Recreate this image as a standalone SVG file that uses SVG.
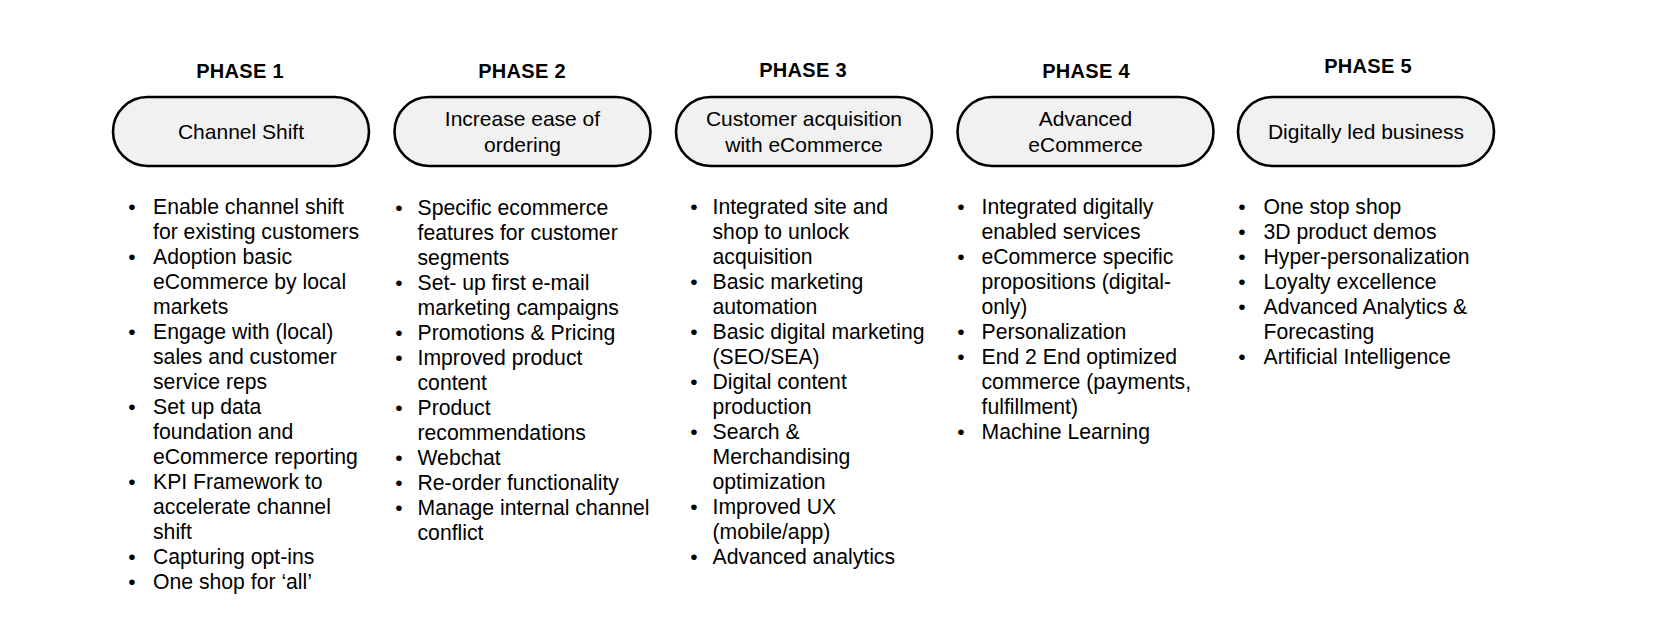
<svg xmlns="http://www.w3.org/2000/svg" width="1676" height="622" viewBox="0 0 1676 622">
<style>
.hdr{font-family:"Liberation Sans",Arial,sans-serif;font-weight:bold;font-size:20px;letter-spacing:0.3px;fill:#000;text-anchor:middle}
.pill{fill:#f1f1f1;stroke:#000;stroke-width:2.6}
.pt{font-family:"Liberation Sans",Arial,sans-serif;font-size:21px;fill:#000;text-anchor:middle}
.li{font-family:"Liberation Sans",Arial,sans-serif;font-size:21.2px;fill:#000}
.bu{font-family:"Liberation Sans",Arial,sans-serif;font-size:21px;fill:#000;text-anchor:middle}
</style>
<rect width="1676" height="622" fill="#fff"/>
<g id="phase1">
<text class="hdr" x="240" y="77.5">PHASE 1</text>
<rect class="pill" x="113" y="97" width="256" height="69" rx="34.5"/>
<text class="pt" x="241" y="139">Channel Shift</text>
<g class="bu"><text x="132" y="213.5">•</text><text x="132" y="263.5">•</text><text x="132" y="338.5">•</text><text x="132" y="413.5">•</text><text x="132" y="488.5">•</text><text x="132" y="563.5">•</text><text x="132" y="588.5">•</text></g>
<text class="li"><tspan x="153" y="213.5">Enable channel shift</tspan><tspan x="153" y="238.5">for existing customers</tspan><tspan x="153" y="263.5">Adoption basic</tspan><tspan x="153" y="288.5">eCommerce by local</tspan><tspan x="153" y="313.5">markets</tspan><tspan x="153" y="338.5">Engage with (local)</tspan><tspan x="153" y="363.5">sales and customer</tspan><tspan x="153" y="388.5">service reps</tspan><tspan x="153" y="413.5">Set up data</tspan><tspan x="153" y="438.5">foundation and</tspan><tspan x="153" y="463.5">eCommerce reporting</tspan><tspan x="153" y="488.5">KPI Framework to</tspan><tspan x="153" y="513.5">accelerate channel</tspan><tspan x="153" y="538.5">shift</tspan><tspan x="153" y="563.5">Capturing opt-ins</tspan><tspan x="153" y="588.5">One shop for ‘all’</tspan></text>
</g>
<g id="phase2">
<text class="hdr" x="522" y="77.5">PHASE 2</text>
<rect class="pill" x="394.5" y="97" width="256" height="69" rx="34.5"/>
<text class="pt" x="522.5" y="126">Increase ease of</text>
<text class="pt" x="522.5" y="152">ordering</text>
<g class="bu"><text x="399" y="214.5">•</text><text x="399" y="289.5">•</text><text x="399" y="339.5">•</text><text x="399" y="364.5">•</text><text x="399" y="414.5">•</text><text x="399" y="464.5">•</text><text x="399" y="489.5">•</text><text x="399" y="514.5">•</text></g>
<text class="li"><tspan x="417.5" y="214.5">Specific ecommerce</tspan><tspan x="417.5" y="239.5">features for customer</tspan><tspan x="417.5" y="264.5">segments</tspan><tspan x="417.5" y="289.5">Set- up first e-mail</tspan><tspan x="417.5" y="314.5">marketing campaigns</tspan><tspan x="417.5" y="339.5">Promotions &amp; Pricing</tspan><tspan x="417.5" y="364.5">Improved product</tspan><tspan x="417.5" y="389.5">content</tspan><tspan x="417.5" y="414.5">Product</tspan><tspan x="417.5" y="439.5">recommendations</tspan><tspan x="417.5" y="464.5">Webchat</tspan><tspan x="417.5" y="489.5">Re-order functionality</tspan><tspan x="417.5" y="514.5">Manage internal channel</tspan><tspan x="417.5" y="539.5">conflict</tspan></text>
</g>
<g id="phase3">
<text class="hdr" x="803" y="77">PHASE 3</text>
<rect class="pill" x="676" y="97" width="256" height="69" rx="34.5"/>
<text class="pt" x="804" y="126">Customer acquisition</text>
<text class="pt" x="804" y="152">with eCommerce</text>
<g class="bu"><text x="694" y="213.5">•</text><text x="694" y="288.5">•</text><text x="694" y="338.5">•</text><text x="694" y="388.5">•</text><text x="694" y="438.5">•</text><text x="694" y="513.5">•</text><text x="694" y="563.5">•</text></g>
<text class="li"><tspan x="712.5" y="213.5">Integrated site and</tspan><tspan x="712.5" y="238.5">shop to unlock</tspan><tspan x="712.5" y="263.5">acquisition</tspan><tspan x="712.5" y="288.5">Basic marketing</tspan><tspan x="712.5" y="313.5">automation</tspan><tspan x="712.5" y="338.5">Basic digital marketing</tspan><tspan x="712.5" y="363.5">(SEO/SEA)</tspan><tspan x="712.5" y="388.5">Digital content</tspan><tspan x="712.5" y="413.5">production</tspan><tspan x="712.5" y="438.5">Search &amp;</tspan><tspan x="712.5" y="463.5">Merchandising</tspan><tspan x="712.5" y="488.5">optimization</tspan><tspan x="712.5" y="513.5">Improved UX</tspan><tspan x="712.5" y="538.5">(mobile/app)</tspan><tspan x="712.5" y="563.5">Advanced analytics</tspan></text>
</g>
<g id="phase4">
<text class="hdr" x="1086" y="77.5">PHASE 4</text>
<rect class="pill" x="957.5" y="97" width="256" height="69" rx="34.5"/>
<text class="pt" x="1085.5" y="126">Advanced</text>
<text class="pt" x="1085.5" y="152">eCommerce</text>
<g class="bu"><text x="961" y="213.5">•</text><text x="961" y="263.5">•</text><text x="961" y="338.5">•</text><text x="961" y="363.5">•</text><text x="961" y="438.5">•</text></g>
<text class="li"><tspan x="981.5" y="213.5">Integrated digitally</tspan><tspan x="981.5" y="238.5">enabled services</tspan><tspan x="981.5" y="263.5">eCommerce specific</tspan><tspan x="981.5" y="288.5">propositions (digital-</tspan><tspan x="981.5" y="313.5">only)</tspan><tspan x="981.5" y="338.5">Personalization</tspan><tspan x="981.5" y="363.5">End 2 End optimized</tspan><tspan x="981.5" y="388.5">commerce (payments,</tspan><tspan x="981.5" y="413.5">fulfillment)</tspan><tspan x="981.5" y="438.5">Machine Learning</tspan></text>
</g>
<g id="phase5">
<text class="hdr" x="1368" y="72.5">PHASE 5</text>
<rect class="pill" x="1238" y="97" width="256" height="69" rx="34.5"/>
<text class="pt" x="1366" y="139">Digitally led business</text>
<g class="bu"><text x="1242" y="213.5">•</text><text x="1242" y="238.5">•</text><text x="1242" y="263.5">•</text><text x="1242" y="288.5">•</text><text x="1242" y="313.5">•</text><text x="1242" y="363.5">•</text></g>
<text class="li"><tspan x="1263.5" y="213.5">One stop shop</tspan><tspan x="1263.5" y="238.5">3D product demos</tspan><tspan x="1263.5" y="263.5">Hyper-personalization</tspan><tspan x="1263.5" y="288.5">Loyalty excellence</tspan><tspan x="1263.5" y="313.5">Advanced Analytics &amp;</tspan><tspan x="1263.5" y="338.5">Forecasting</tspan><tspan x="1263.5" y="363.5">Artificial Intelligence</tspan></text>
</g>
<g id="connectors"/>
</svg>
